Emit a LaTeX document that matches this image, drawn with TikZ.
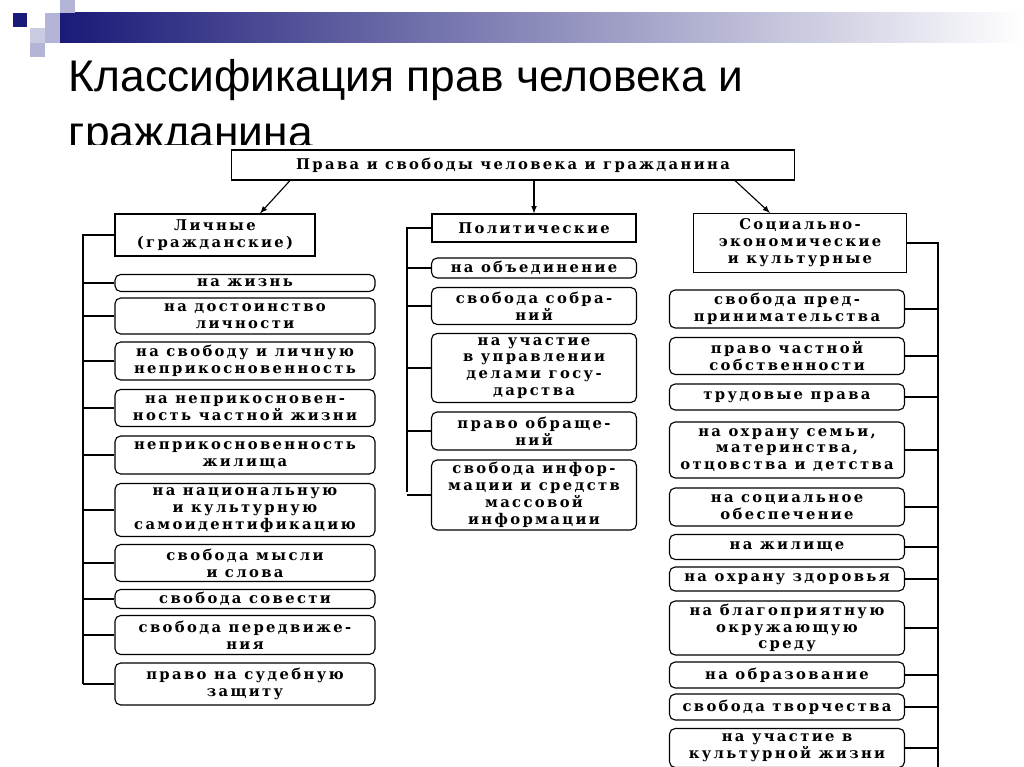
\documentclass[tikz,border=0pt]{standalone}
\usepackage{fontspec}
\setmainfont{Liberation Serif}
\newfontfamily\titlefont{Liberation Sans}
\newfontfamily\boxfont[LetterSpace=16]{DejaVu Serif}
\usetikzlibrary{positioning}
\definecolor{navy}{RGB}{26,26,120}
\definecolor{lilac}{RGB}{180,180,215}
\tikzset{
  item/.style={draw, thick, rounded corners=4pt, align=center, inner sep=1pt,
    font=\boxfont\fontsize{10.5}{12}\selectfont\bfseries},
  head/.style={item, rounded corners=0pt},
  spine/.style={thick},
  link/.style={thick, -latex}
}
\begin{document}
\begin{tikzpicture}[x=0.025cm, y=-0.025cm]
  \useasboundingbox (0,0) rectangle (1024,767);
  \clip (0,0) rectangle (1024,767);
  % decoration
  \shade[left color=navy, right color=white] (60,13) rectangle (1024,43);
  \fill[navy] (13,13) rectangle (27,27);
  \fill[lilac] (45,13) rectangle (60,28);
  \fill[lilac] (60,0) rectangle (75,13);
  \fill[lilac!70] (30,28) rectangle (45,43);
  \fill[lilac] (45,28) rectangle (60,43);
  \fill[lilac] (30,43) rectangle (45,57);
  % title
  \node[anchor=west, font=\titlefont\fontsize{31.5}{40}\selectfont, align=left] (title) at (64,108)
    {Классификация прав человека и\\гражданина};
  \fill[white] (70,145) rectangle (960,767);
  % top
  \node[head, minimum width=563*0.025cm, minimum height=30*0.025cm] (top) at (513,165)
    {Права и свободы человека и гражданина};
  \node[head, minimum width=200*0.025cm, minimum height=42*0.025cm] (lich) at (215,235)
    {Личные\\(гражданские)};
  \node[head, minimum width=204*0.025cm, minimum height=28*0.025cm] (pol) at (534,228)
    {Политические};
  \node[head, minimum width=213*0.025cm, minimum height=59*0.025cm] (soc) at (800,243)
    {Социально-\\экономические\\и культурные};
  \draw[link] (top.south -| 290,0) -- (lich.north -| 260,0);
  \draw[link] (top.south -| pol) -- (pol.north);
  \draw[link] (top.south -| 735,0) -- (soc.north -| 770,0);
  % personal rights
  \foreach \i/\y/\h/\t in {1/283/17/на жизнь, 2/316/36/на достоинство\\личности,
      3/361/38/на свободу и личную\\неприкосновенность, 4/408/37/на неприкосновен-\\ность частной жизни,
      5/455/38/неприкосновенность\\жилища, 6/510/53/на национальную\\и культурную\\самоидентификацию,
      7/563/37/свобода мысли\\и слова, 8/599/19/свобода совести,
      9/635/39/свобода передвиже-\\ния, 10/684/42/право на судебную\\защиту}{
    \node[item, minimum width=260*0.025cm, minimum height=\h*0.025cm] (l\i) at (245,\y) {\t};
    \draw[spine] (83,\y) -- (l\i.west);
  }
  \draw[spine] (lich.west) -- (83,235) -- (83,684);
  % political rights
  \foreach \i/\y/\h/\t in {1/268/20/на объединение, 2/306/37/свобода собра-\\ний,
      3/368/69/на участие\\в управлении\\делами госу-\\дарства, 4/431/38/право обраще-\\ний,
      5/495/70/свобода инфор-\\мации и средств\\массовой\\информации}{
    \node[item, minimum width=205*0.025cm, minimum height=\h*0.025cm] (p\i) at (534,\y) {\t};
    \draw[spine] (407,\y) -- (p\i.west);
  }
  \draw[spine] (pol.west) -- (407,228) -- (407,492);
  % social rights
  \foreach \i/\y/\h/\t in {1/309/38/свобода пред-\\принимательства, 2/356/37/право частной\\собственности,
      3/397/26/трудовые права, 4/450/56/{на охрану семьи,\\материнства,\\отцовства и детства},
      5/507/38/на социальное\\обеспечение, 6/547/25/на жилище, 7/579/24/на охрану здоровья,
      8/628/54/на благоприятную\\окружающую\\среду, 9/675/26/на образование,
      10/707/26/свобода творчества, 11/748/39/на участие в\\культурной жизни}{
    \node[item, minimum width=235*0.025cm, minimum height=\h*0.025cm] (s\i) at (787,\y) {\t};
    \draw[spine] (938,\y) -- (s\i.east);
  }
  \draw[spine] (soc.east) -- (938,243) -- (938,767);
\end{tikzpicture}
\end{document}
